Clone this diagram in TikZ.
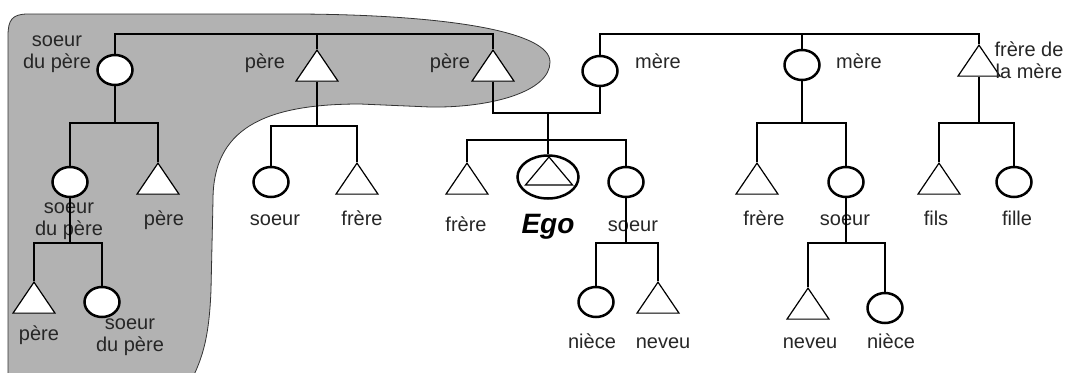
\documentclass[tikz,border=0pt]{standalone}
\usepackage{fontspec}
\setmainfont{Liberation Sans}
\usetikzlibrary{shapes.geometric}
\tikzset{
  fem/.style={ellipse,draw,line width=2.5pt,fill=white,minimum width=35pt,minimum height=30pt,inner sep=0pt},
  masc/.style={isosceles triangle,isosceles triangle stretches,shape border rotate=90,draw,line width=1.2pt,fill=white,minimum width=42pt,minimum height=31pt,inner sep=0pt},
  lbl/.style={font=\fontsize{20}{22}\selectfont,text=black!85,align=center,inner sep=0pt},
  kin/.style={line width=1.2pt},
  blob/.style={fill=black!30,draw=black!80,line width=0.8pt}
}
\begin{document}
\begin{tikzpicture}[x=1pt,y=-1pt]
\useasboundingbox (0,0) rectangle (1067,372);
% grey patch round the father's side
\filldraw[blob] (8,390) -- (8,36) .. controls (8,20) and (12,14) .. (28,14) -- (300,14)
  .. controls (450,15) and (550,32) .. (550,62) .. controls (550,92) and (490,108) .. (430,107)
  -- (360,104) .. controls (262,104) and (213,130) .. (213,200) -- (211,290)
  .. controls (209,340) and (202,362) .. (186,390) -- cycle;

% first row
\node[fem] (sdp) at (115,70) {};
\node[masc] (pp) at (317,70) {};
\node[masc] (pere) at (493,70) {};
\node[fem] (mere) at (600,71) {};
\node[fem] (mt) at (802,65) {};
\node[masc] (fdm) at (979,65) {};

% second row
\node[fem] (c1) at (70,182) {};
\node[masc] (c2) at (158,183) {};
\node[fem] (c3) at (271,182) {};
\node[masc] (c4) at (357,183) {};
\node[masc] (fr) at (467,183) {};
\node[ellipse,draw,line width=2.5pt,fill=white,minimum width=61pt,minimum height=43pt] (ego) at (548,177) {};
\node[masc,minimum width=47pt,minimum height=28pt] (egotri) at (549,174) {};
\node[fem] (so) at (626,182) {};
\node[masc] (c5) at (757,183) {};
\node[fem] (c6) at (846,182) {};
\node[masc] (c7) at (939,183) {};
\node[fem] (c8) at (1014,182) {};

% third row
\node[masc] (g1) at (34,302) {};
\node[fem] (g2) at (102,302) {};
\node[fem] (g3) at (596,302) {};
\node[masc] (g4) at (658,302) {};
\node[masc] (g5) at (808,308) {};
\node[fem] (g6) at (885,308) {};

% labels
\node[lbl] (lsdp) at (57,54) {soeur\\du père};
\node[lbl,anchor=base] (lpp) at (265,68) {père};
\node[lbl,anchor=base] (lpere) at (450,68) {père};
\node[lbl,anchor=base] (lmere) at (658,68) {mère};
\node[lbl,anchor=base] (lmt) at (859,68) {mère};
\node[lbl] (lfdm) at (1029,60) {frère de\\la mère};
\node[lbl] (lc1) at (69,221) {soeur\\du père};
\node[lbl,anchor=base] (lc2) at (164,225) {père};
\node[lbl,anchor=base] (lc3) at (275,225) {soeur};
\node[lbl,anchor=base] (lc4) at (362,225) {frère};
\node[lbl,anchor=base] (lfr) at (466,231) {frère};
\node[lbl,anchor=base,font=\fontsize{28}{30}\selectfont\bfseries\itshape,text=black] (lego) at (548,233) {Ego};
\node[lbl,anchor=base] (lso) at (633,231) {soeur};
\node[lbl,anchor=base] (lc5) at (764,225) {frère};
\node[lbl,anchor=base] (lc6) at (845,225) {soeur};
\node[lbl,anchor=base] (lc7) at (936,225) {fils};
\node[lbl,anchor=base] (lc8) at (1017,225) {fille};
\node[lbl,anchor=base] (lg1) at (39,340) {père};
\node[lbl] (lg2) at (130,337) {soeur\\du père};
\node[lbl,anchor=base] (lg3) at (592,348) {nièce};
\node[lbl,anchor=base] (lg4) at (663,348) {neveu};
\node[lbl,anchor=base] (lg5) at (810,348) {neveu};
\node[lbl,anchor=base] (lg6) at (891,348) {nièce};

% lines
\coordinate (t1) at (317,34);
\coordinate (t2) at (802,34);
\coordinate (b1) at (115,123);
\coordinate (b2) at (317,126);
\coordinate (m1) at (548,113);
\coordinate (b3) at (548,140);
\coordinate (b4) at (802,123);
\coordinate (b5) at (979,123);
\coordinate (b6) at (70,243);
\coordinate (b7) at (626,243);
\coordinate (b8) at (846,243);

\draw[kin] (sdp) |- (t1) -| (pere);
\draw[kin] (t1) -- (pp);
\draw[kin] (mere) |- (t2) -| (fdm);
\draw[kin] (t2) -- (mt);
\draw[kin] (sdp) -- (b1);
\draw[kin] (c1) |- (b1) -| (c2);
\draw[kin] (pp) -- (b2);
\draw[kin] (c3) |- (b2) -| (c4);
\draw[kin] (pere) |- (m1) -| (mere);
\draw[kin] (m1) -- (ego);
\draw[kin] (fr) |- (b3) -| (so);
\draw[kin] (mt) -- (b4);
\draw[kin] (c5) |- (b4) -| (c6);
\draw[kin] (fdm) -- (b5);
\draw[kin] (c7) |- (b5) -| (c8);
\draw[kin] (c1) -- (b6);
\draw[kin] (g1) |- (b6) -| (g2);
\draw[kin] (so) -- (b7);
\draw[kin] (g3) |- (b7) -| (g4);
\draw[kin] (c6) -- (b8);
\draw[kin] (g5) |- (b8) -| (g6);
\end{tikzpicture}
\end{document}
